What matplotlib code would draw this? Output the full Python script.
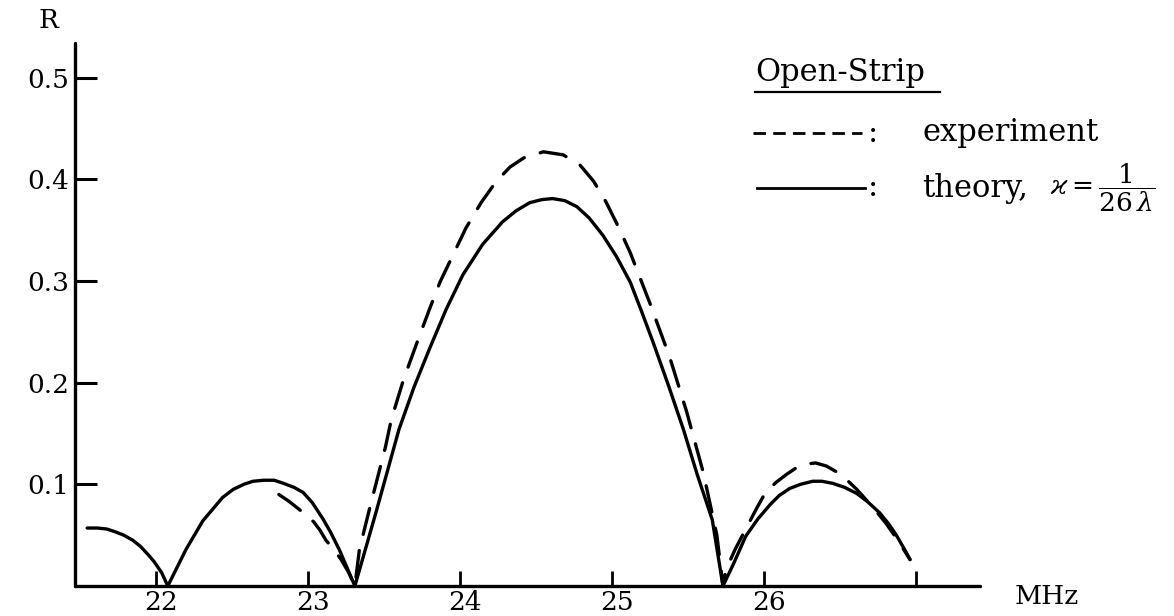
import matplotlib
matplotlib.use("Agg")
import matplotlib.pyplot as plt
from matplotlib.lines import Line2D
from matplotlib.transforms import ScaledTranslation

plt.rcParams['font.family'] = ['DejaVu Serif', 'DejaVu Sans']
plt.rcParams['mathtext.fontset'] = 'dejavuserif'

# Reflection coefficient R versus frequency (MHz), open-strip line
theory_mhz = [21.55, 21.62, 21.68, 21.74, 21.79, 21.85, 21.90, 21.95, 21.99, 22.04, 22.08,
              22.20, 22.31, 22.44, 22.51, 22.58, 22.64, 22.71, 22.78, 22.84, 22.91, 22.97,
              23.03, 23.10, 23.15, 23.21, 23.31,
              23.45, 23.60, 23.70, 23.80, 23.91, 24.02, 24.15, 24.28, 24.37, 24.46, 24.54,
              24.61, 24.69, 24.77, 24.85, 24.94, 25.03, 25.12, 25.19, 25.27, 25.37, 25.47,
              25.56, 25.66, 25.73,
              25.80, 25.88, 25.96, 26.04, 26.10, 26.17, 26.24, 26.32, 26.38, 26.45, 26.53,
              26.61, 26.68, 26.76, 26.82, 26.87, 26.92, 26.96]
theory_r = [0.057, 0.057, 0.056, 0.053, 0.050, 0.045, 0.039, 0.031, 0.024, 0.013, 0.0,
            0.036, 0.064, 0.087, 0.095, 0.100, 0.103, 0.104, 0.104, 0.101, 0.097, 0.092,
            0.082, 0.066, 0.053, 0.035, 0.0,
            0.073, 0.154, 0.196, 0.233, 0.272, 0.306, 0.336, 0.358, 0.369, 0.377, 0.380,
            0.381, 0.379, 0.373, 0.362, 0.345, 0.324, 0.299, 0.272, 0.240, 0.198, 0.154,
            0.110, 0.065, 0.0,
            0.022, 0.049, 0.066, 0.080, 0.089, 0.096, 0.100, 0.103, 0.103, 0.101, 0.097,
            0.091, 0.083, 0.072, 0.061, 0.050, 0.037, 0.026]

experiment_mhz = [22.81, 22.87, 22.93, 22.98, 23.04, 23.08, 23.12, 23.17, 23.22, 23.27, 23.31,
                  23.34, 23.41, 23.51, 23.55, 23.63, 23.72, 23.80, 23.87, 23.96, 24.04, 24.14,
                  24.24, 24.33, 24.42, 24.55, 24.68, 24.79, 24.88, 24.96, 25.04, 25.12, 25.25,
                  25.38, 25.49, 25.60, 25.69, 25.73,
                  25.75, 25.81, 25.88, 25.95, 26.01, 26.08, 26.15, 26.21, 26.28, 26.34, 26.41,
                  26.48, 26.54, 26.61, 26.67, 26.74, 26.80, 26.88, 26.96]
experiment_r = [0.090, 0.084, 0.077, 0.071, 0.063, 0.055, 0.045, 0.036, 0.026, 0.013, 0.0,
                0.036, 0.078, 0.136, 0.164, 0.203, 0.240, 0.272, 0.299, 0.327, 0.352, 0.377,
                0.398, 0.412, 0.421, 0.427, 0.424, 0.414, 0.398, 0.378, 0.354, 0.328, 0.278,
                0.225, 0.172, 0.112, 0.050, 0.0,
                0.016, 0.036, 0.056, 0.076, 0.092, 0.102, 0.110, 0.116, 0.120, 0.121, 0.118,
                0.112, 0.105, 0.095, 0.085, 0.073, 0.062, 0.045, 0.026]

x_ticks = [22, 23, 24, 25, 26, 27]
x_tick_labels = ["22", "23", "24", "25", "26", ""]
y_ticks = [0.1, 0.2, 0.3, 0.4, 0.5]
y_tick_labels = ["0.1", "0.2", "0.3", "0.4", "0.5"]

W, H = 1174, 616
fig = plt.figure(figsize=(W / 100, H / 100), dpi=100)
fig.patch.set_facecolor("white")


def fx(px):
    return px / W


def fy(py):
    return 1 - py / H


ax = fig.add_axes([fx(75), fy(586), fx(980) - fx(75), fy(43) - fy(586)])
ax.set_xlim(21.47, 27.42)
ax.set_ylim(0, 0.534)

for side in ("top", "right"):
    ax.spines[side].set_visible(False)
for side in ("left", "bottom"):
    ax.spines[side].set_linewidth(2.4)
    ax.spines[side].set_color("black")
    ax.spines[side].set_capstyle("round")

ax.set_xticks(x_ticks)
ax.set_xticklabels(x_tick_labels, fontsize=19)
ax.set_yticks(y_ticks)
ax.set_yticklabels(y_tick_labels, fontsize=19)
ax.tick_params(axis="y", direction="in", length=16, width=2.2, pad=4)
ax.tick_params(axis="x", direction="in", length=11, width=2.0, pad=3)
for lab in ax.get_xticklabels():
    lab.set_transform(lab.get_transform() + ScaledTranslation(0.05, 0, fig.dpi_scale_trans))

ax.plot(theory_mhz, theory_r, color="black", lw=2.4, solid_joinstyle="round",
        solid_capstyle="round", clip_on=False)
ax.plot(experiment_mhz, experiment_r, color="black", lw=2.4, dashes=(8, 5),
        dash_capstyle="round", dash_joinstyle="round", clip_on=False)

# axis titles
fig.text(fx(48), fy(20), "R", fontsize=19, ha="center", va="center")
fig.text(fx(1015), fy(596), "MHz", fontsize=19, ha="left", va="center")

# key
fig.text(fx(755), fy(73), "Open-Strip", fontsize=22, ha="left", va="center")
fig.add_artist(Line2D([fx(755), fx(940)], [fy(92), fy(92)], color="black", lw=1.6,
                      transform=fig.transFigure))

fig.add_artist(Line2D([fx(753), fx(862)], [fy(133), fy(133)], color="black", lw=2.0,
                      dashes=(4.5, 2.6), transform=fig.transFigure))
fig.text(fx(873), fy(133), ":", fontsize=22, ha="center", va="center")
fig.text(fx(922), fy(133), "experiment", fontsize=22, ha="left", va="center")

fig.add_artist(Line2D([fx(757), fx(865)], [fy(188), fy(188)], color="black", lw=2.0,
                      transform=fig.transFigure))
fig.text(fx(873), fy(188), ":", fontsize=22, ha="center", va="center")
fig.text(fx(922), fy(188), "theory,", fontsize=22, ha="left", va="center")
fig.text(fx(1050), fy(188), r"$\varkappa = \dfrac{1}{26\,\lambda}$", fontsize=19,
         ha="left", va="center")

fig.savefig("out.png", dpi=100, facecolor="white")
